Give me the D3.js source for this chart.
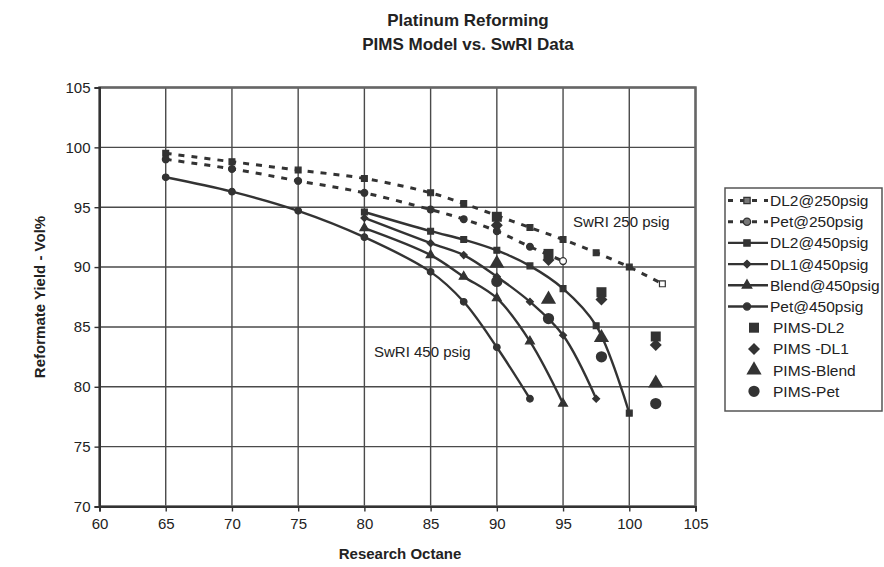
<!DOCTYPE html>
<html>
<head>
<meta charset="utf-8">
<script src="https://cdn.jsdelivr.net/npm/d3@7"></script>
<style>
  body { margin: 0; background: #fff; }
  text { font-family: "Liberation Sans", Arial, sans-serif; fill: #222; }
</style>
</head>
<body>
<div id="chart"></div>
<script>
// octane values for SwRI runs
const octane250 = [65, 70, 75, 80, 85, 87.5, 90, 92.5, 95, 97.5, 100, 102.5];
const dl2At250 = [99.5, 98.8, 98.1, 97.4, 96.2, 95.3, 94.3, 93.3, 92.3, 91.2, 90.0, 88.6];
const petOctane250 = [65, 70, 75, 80, 85, 87.5, 90, 92.5, 95];
const petAt250 = [99.0, 98.2, 97.2, 96.2, 94.8, 94.0, 93.0, 91.7, 90.5];

const dl2Octane450 = [80, 85, 87.5, 90, 92.5, 95, 97.5, 100];
const dl2At450 = [94.6, 93.0, 92.3, 91.4, 90.1, 88.2, 85.1, 77.8];
const dl1Octane450 = [80, 85, 87.5, 90, 92.5, 95, 97.5];
const dl1At450 = [94.1, 92.0, 91.0, 89.2, 87.1, 84.3, 79.0];
const blendOctane450 = [80, 85, 87.5, 90, 92.5, 95];
const blendAt450 = [93.25, 91.0, 89.2, 87.4, 83.8, 78.6];
const petOctane450 = [65, 70, 75, 80, 85, 87.5, 90, 92.5];
const petAt450 = [97.5, 96.3, 94.7, 92.5, 89.6, 87.1, 83.3, 79.0];

// PIMS model predictions
const pimsOctane = [90, 93.9, 97.9, 102];
const pimsDL2 = [94.2, 91.1, 87.9, 84.2];
const pimsDL1 = [93.5, 90.6, 87.3, 83.5];
const pimsBlend = [90.3, 87.3, 84.1, 80.3];
const pimsPet = [88.8, 85.7, 82.5, 78.6];

const xTicks = [60, 65, 70, 75, 80, 85, 90, 95, 100, 105];
const yTicks = [70, 75, 80, 85, 90, 95, 100, 105];

const zip = (xs, ys) => xs.map((x, i) => ({ x: x, y: ys[i] }));

const w = 884, h = 567;
const m = { top: 87.5, right: 188.5, bottom: 60.5, left: 99.5 };
const ink = "#333";

const svg = d3.select("#chart").append("svg")
  .attr("width", w).attr("height", h);

const x = d3.scaleLinear().domain([60, 105]).range([m.left, w - m.right]);
const y = d3.scaleLinear().domain([70, 105]).range([h - m.bottom, m.top]);

// diamond = square turned 45deg (d3's diamond is too tall)
function mark(shape) {
  return shape === "diamond" ? d3.symbolSquare : shape;
}
function rot(shape) {
  return shape === "diamond" ? " rotate(45)" : "";
}

// title
svg.append("text").attr("x", 468).attr("y", 26)
  .attr("text-anchor", "middle").style("font-size", "17px").style("font-weight", "bold")
  .text("Platinum Reforming");
svg.append("text").attr("x", 468).attr("y", 50)
  .attr("text-anchor", "middle").style("font-size", "17px").style("font-weight", "bold")
  .text("PIMS Model vs. SwRI Data");

// grid
svg.append("g").selectAll("line").data(xTicks).enter().append("line")
  .attr("x1", d => x(d)).attr("x2", d => x(d))
  .attr("y1", y(70)).attr("y2", y(105))
  .attr("stroke", "#4a4a4a").attr("stroke-width", 1.4);
svg.append("g").selectAll("line").data(yTicks).enter().append("line")
  .attr("x1", x(60)).attr("x2", x(105))
  .attr("y1", d => y(d)).attr("y2", d => y(d))
  .attr("stroke", "#4a4a4a").attr("stroke-width", 1.4);
svg.append("rect")
  .attr("x", x(60)).attr("y", y(105))
  .attr("width", x(105) - x(60)).attr("height", y(70) - y(105))
  .attr("fill", "none").attr("stroke", "#666").attr("stroke-width", 2.5);

// axes
const xAxis = d3.axisBottom(x).tickValues(xTicks).tickSize(5).tickPadding(7);
const yAxis = d3.axisLeft(y).tickValues(yTicks).tickSize(5).tickPadding(4);
const gx = svg.append("g").attr("transform", `translate(0,${y(70)})`).call(xAxis);
const gy = svg.append("g").attr("transform", `translate(${x(60)},0)`).call(yAxis);
[gx, gy].forEach(g => {
  g.select(".domain").attr("stroke", ink).attr("stroke-width", 2);
  g.selectAll(".tick line").attr("stroke", ink).attr("stroke-width", 1.4);
  g.selectAll(".tick text").style("font-size", "15px").attr("fill", "#222")
    .style("font-family", "'Liberation Sans', Arial, sans-serif");
});

svg.append("text").attr("x", 400).attr("y", 559)
  .attr("text-anchor", "middle").style("font-size", "15px").style("font-weight", "bold")
  .text("Research Octane");
svg.append("text")
  .attr("transform", `translate(45,${y(87.5)}) rotate(-90)`)
  .attr("text-anchor", "middle").style("font-size", "15px").style("font-weight", "bold")
  .text("Reformate Yield - Vol%");

// series
const line = d3.line().x(d => x(d.x)).y(d => y(d.y)).curve(d3.curveCatmullRom.alpha(0.5));

const series = [
  { name: "DL2@250psig", data: zip(octane250, dl2At250), shape: d3.symbolSquare, size: 34, dash: "6,7", width: 3 },
  { name: "Pet@250psig", data: zip(petOctane250, petAt250), shape: d3.symbolCircle, size: 36, dash: "6,7", width: 3 },
  { name: "DL2@450psig", data: zip(dl2Octane450, dl2At450), shape: d3.symbolSquare, size: 34, dash: null, width: 2.4 },
  { name: "DL1@450psig", data: zip(dl1Octane450, dl1At450), shape: "diamond", size: 24, dash: null, width: 2.4 },
  { name: "Blend@450psig", data: zip(blendOctane450, blendAt450), shape: d3.symbolTriangle, size: 34, dash: null, width: 2.4 },
  { name: "Pet@450psig", data: zip(petOctane450, petAt450), shape: d3.symbolCircle, size: 34, dash: null, width: 2.4 }
];

series.forEach(s => {
  svg.append("path").datum(s.data)
    .attr("fill", "none").attr("stroke", ink)
    .attr("stroke-width", s.width)
    .attr("stroke-dasharray", s.dash)
    .attr("d", line);
  svg.append("g").selectAll("path").data(s.data).enter().append("path")
    .attr("transform", d => `translate(${x(d.x)},${y(d.y)})` + rot(s.shape))
    .attr("d", d3.symbol().type(mark(s.shape)).size(s.size))
    .attr("fill", (d, i) => s.dash && i === s.data.length - 1 ? "#fff" : ink)
    .attr("stroke", ink).attr("stroke-width", 1.2);
});

const pims = [
  { name: "PIMS-DL2", data: zip(pimsOctane, pimsDL2), shape: d3.symbolSquare, size: 100 },
  { name: "PIMS -DL1", data: zip(pimsOctane, pimsDL1), shape: "diamond", size: 72 },
  { name: "PIMS-Blend", data: zip(pimsOctane, pimsBlend), shape: d3.symbolTriangle, size: 100 },
  { name: "PIMS-Pet", data: zip(pimsOctane, pimsPet), shape: d3.symbolCircle, size: 100 }
];

pims.forEach(s => {
  svg.append("g").selectAll("path").data(s.data).enter().append("path")
    .attr("transform", d => `translate(${x(d.x)},${y(d.y)})` + rot(s.shape))
    .attr("d", d3.symbol().type(mark(s.shape)).size(s.size))
    .attr("fill", ink);
});

// annotations
svg.append("text").attr("x", 573).attr("y", 227).style("font-size", "15px").text("SwRI 250 psig");
svg.append("text").attr("x", 374).attr("y", 357).style("font-size", "15px").text("SwRI 450 psig");

// legend
const lg = svg.append("g");
lg.append("rect").attr("x", 725).attr("y", 188).attr("width", 157).attr("height", 223)
  .attr("fill", "#fff").attr("stroke", "#555").attr("stroke-width", 1.5);
const rowY = i => 200.5 + i * 21.2;

series.forEach((s, i) => {
  const yy = rowY(i);
  lg.append("line").attr("x1", 728).attr("x2", 768).attr("y1", yy).attr("y2", yy)
    .attr("stroke", ink).attr("stroke-width", s.width)
    .attr("stroke-dasharray", s.dash ? "5,7" : null);
  lg.append("path").attr("transform", `translate(747,${yy})` + rot(s.shape))
    .attr("d", d3.symbol().type(mark(s.shape)).size(s.size + 6))
    .attr("fill", s.dash ? "#777" : ink).attr("stroke", ink).attr("stroke-width", 1.2);
  lg.append("text").attr("x", 770).attr("y", yy + 5.5).style("font-size", "15.5px").text(s.name);
});
pims.forEach((s, i) => {
  const yy = rowY(i + series.length);
  lg.append("path").attr("transform", `translate(754,${yy})` + rot(s.shape))
    .attr("d", d3.symbol().type(mark(s.shape)).size(s.size))
    .attr("fill", ink);
  lg.append("text").attr("x", 773).attr("y", yy + 5.5).style("font-size", "15.5px").text(s.name);
});
</script>
</body>
</html>
